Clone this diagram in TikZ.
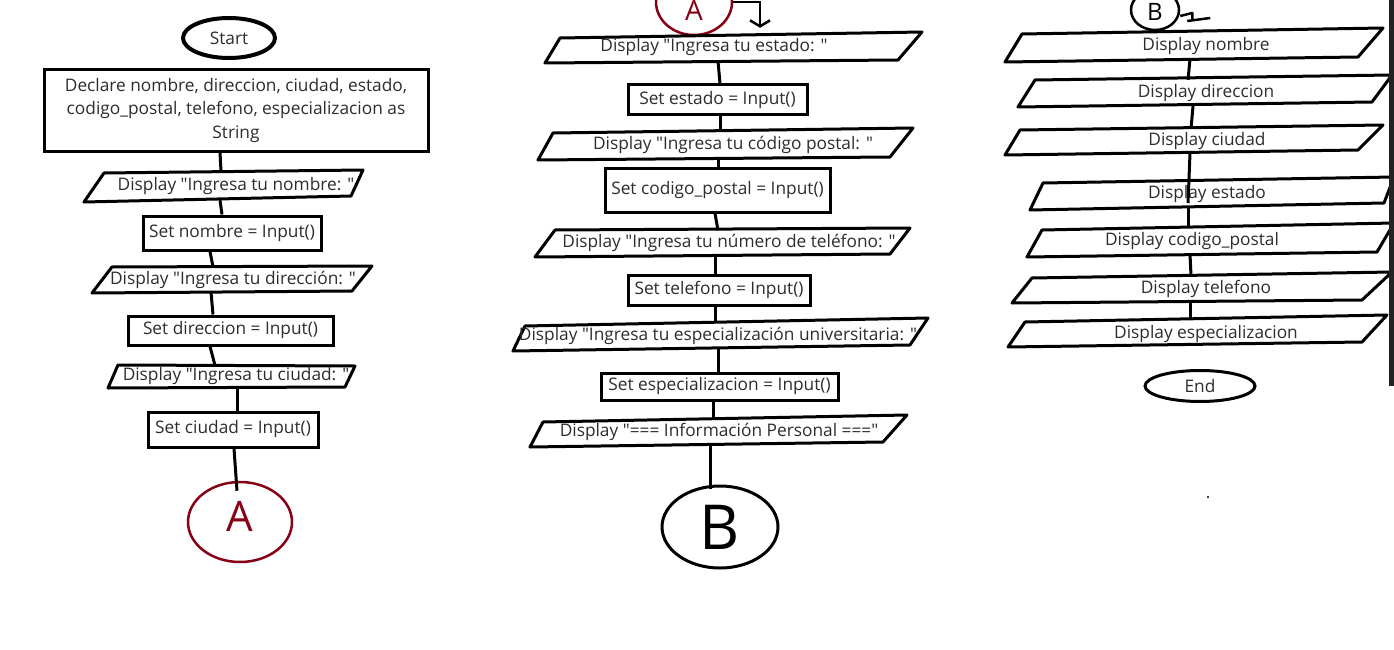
\documentclass[tikz,border=0pt]{standalone}
\usepackage{fontspec}
\usetikzlibrary{shapes.geometric,arrows.meta}
\newfontfamily\tf{Open Sans}
\definecolor{txtc}{RGB}{45,45,45}
\definecolor{dred}{RGB}{136,0,21}
\definecolor{bandc}{RGB}{35,35,35}
\tikzset{
  body/.style={font={\tf\fontsize{17.3}{20}\selectfont}, text=txtc},
  box/.style={body, draw, line width=3pt, inner sep=0pt},
  lbl/.style={body, inner sep=0pt, minimum width=20pt},
  io/.style={draw, line width=3pt, line join=round},
  conn/.style={line width=3pt},
  term/.style={body, ellipse, draw, line width=4pt, inner sep=0pt},
  conA/.style={ellipse, draw=dred, line width=2.5pt, inner sep=0pt, text=dred, font={\tf\fontsize{42}{42}\selectfont}},
  conB/.style={ellipse, draw, line width=3pt, inner sep=0pt, font={\tf\fontsize{62}{62}\selectfont}},
}
\begin{document}
\begin{tikzpicture}[x=1pt,y=-1pt]
\useasboundingbox (0,0) rectangle (1394,650);
\clip (0,0) rectangle (1394,650);
\fill[white] (0,0) rectangle (1394,650);

% ---------------- column 1 ----------------
\node[term, minimum width=92pt, minimum height=40pt] (start) at (229,38) {Start};
\node[box, minimum width=384pt, minimum height=81pt, align=center, font={\tf\fontsize{17.3}{23.5}\selectfont}] (decl) at (236,110.5)
  {Declare nombre, direccion, ciudad, estado,\\codigo\_postal, telefono, especializacion as\\String};

\draw[io] (104,173) -- (363,170) -- (351,196) -- (84,202) -- cycle;
\node[lbl, minimum height=28pt] (p1) at (236,186) {Display "Ingresa tu nombre: "};
\node[box, minimum width=178pt, minimum height=34pt] (b1) at (232,233) {Set nombre = Input()};

\draw[io] (112,267) -- (372,266) -- (352,291) -- (92,293) -- cycle;
\node[lbl, minimum height=25pt] (p2) at (233,279.5) {Display "Ingresa tu dirección: "};
\node[box, minimum width=205pt, minimum height=29pt] (b2) at (230.5,330.5) {Set direccion = Input()};

\draw[io] (118,365) -- (355,366) -- (345,387) -- (108,388) -- cycle;
\node[lbl, minimum height=22pt] (p3) at (236,376.5) {Display "Ingresa tu ciudad: "};
\node[box, minimum width=170pt, minimum height=35pt] (b3) at (233,429.5) {Set ciudad = Input()};

\node[conA, minimum width=104pt, minimum height=80pt, text height=30pt, text depth=12pt] (A) at (240,522) {A};

\draw[conn] ([xshift=-16pt]decl.south) -- ([xshift=-15pt]p1.north);
\draw[conn] ([xshift=-16pt]p1.south) -- ([xshift=-10pt]b1.north);
\draw[conn] ([xshift=-22pt]b1.south) -- ([xshift=-20pt]p2.north);
\draw[conn] ([xshift=-22pt]p2.south) -- ([xshift=-17.5pt]b2.north);
\draw[conn] ([xshift=-20.5pt]b2.south) -- ([xshift=-21pt]p3.north);
\draw[conn] ([xshift=1pt]p3.south) -- ([xshift=4pt]b3.north);
\draw[conn] ([xshift=1pt]b3.south) -- ([xshift=-3pt,yshift=-10pt]A.north);

% ---------------- column 2 ----------------
\node[conA, minimum width=76pt, minimum height=66pt, text height=38pt, text depth=0pt, font={\tf\fontsize{28}{28}\selectfont}] (A2) at (694,2) {A};

\draw[io] (560,38) -- (922,32) -- (898,60) -- (545,63) -- cycle;
\node[lbl, minimum height=27pt] (q1) at (714,47.5) {Display "Ingresa tu estado: "};
\node[box, minimum width=179pt, minimum height=30pt] (r1) at (717.5,100) {Set estado = Input()};

\draw[io] (553,133) -- (913,128) -- (890,157) -- (538,160) -- cycle;
\node[lbl, minimum height=28pt] (q2) at (733,145) {Display "Ingresa tu código postal: "};
\node[box, minimum width=225pt, minimum height=44pt] (r2) at (717.5,190) {Set codigo\_postal = Input()};

\draw[io] (555,230) -- (910,228) -- (890,254) -- (535,257) -- cycle;
\node[lbl, minimum height=25pt] (q3) at (729,243) {Display "Ingresa tu número de teléfono: "};
\node[box, minimum width=182pt, minimum height=30pt] (r3) at (719,290) {Set telefono = Input()};

\draw[io] (525,326) -- (928,318) -- (910,345) -- (513,351) -- cycle;
\node[lbl, minimum height=26pt] (q4) at (718,336) {Display "Ingresa tu especialización universitaria: "};
\node[box, minimum width=237pt, minimum height=27pt] (r4) at (719.5,386.5) {Set especializacion = Input()};

\draw[io] (543,422) -- (907,415) -- (883,442) -- (530,447) -- cycle;
\node[lbl, minimum height=28pt] (q5) at (719,432) {Display "=== Información Personal ==="};

\node[conB, minimum width=116pt, minimum height=82pt] (B) at (720,527) {B};

\draw[line width=2.5pt, -{Straight Barb[width=20pt,length=6pt]}] (A2.east) -| ([xshift=46pt,yshift=6pt]q1.north);
\draw[conn] ([xshift=4pt]q1.south) -- ([xshift=2.5pt]r1.north);
\draw[conn] ([xshift=2.5pt]r1.south) -- ([xshift=-13pt]q2.north);
\draw[conn] ([xshift=-15pt]q2.south) -- ([xshift=0.5pt]r2.north);
\draw[conn] ([xshift=-2.5pt]r2.south) -- ([xshift=-11pt]q3.north);
\draw[conn] ([xshift=-14pt]q3.south) -- ([xshift=-4pt]r3.north);
\draw[conn] ([xshift=-4pt]r3.south) -- ([xshift=-3pt]q4.north);
\draw[conn] ([xshift=0pt]q4.south) -- ([xshift=-1.5pt]r4.north);
\draw[conn] ([xshift=-6.5pt]r4.south) -- ([xshift=-6pt]q5.north);
\draw[conn] ([xshift=-9pt]q5.south) -- ([xshift=-10pt,yshift=-4pt]B.north);

% ---------------- column 3 ----------------
\node[conB, line width=2.5pt, minimum width=48pt, minimum height=40pt, text height=22pt, text depth=0pt, font={\tf\fontsize{24}{24}\selectfont}] (B2) at (1155,10) {B};
\draw[line width=2.5pt, line join=round] ([yshift=-6pt]B2.east) -- ++(12,-3) -- ++(0,8);
\draw[line width=2.5pt] ([xshift=7pt,yshift=-11pt]B2.east) -- ++(23,-3);

\draw[io] (1022,34) -- (1383,28) -- (1358,57) -- (1005,62) -- cycle;
\node[lbl, minimum height=26pt] (s1) at (1206,46) {Display nombre};
\draw[io] (1035,80) -- (1392,75) -- (1372,102) -- (1018,107) -- cycle;
\node[lbl, minimum height=26pt] (s2) at (1206,93) {Display direccion};
\draw[io] (1020,130) -- (1383,125) -- (1358,150) -- (1005,155) -- cycle;
\node[lbl, minimum height=24pt] (s3) at (1207,141) {Display ciudad};
\draw[io] (1043,183) -- (1394,177) -- (1384,203) -- (1030,210) -- cycle;
\node[lbl, minimum height=26pt] (s4) at (1207,194) {Display estado};
\draw[io] (1042,230) -- (1394,223) -- (1377,252) -- (1027,257) -- cycle;
\node[lbl, minimum height=26pt] (s5) at (1192,241) {Display codigo\_postal};
\draw[io] (1032,278) -- (1392,272) -- (1362,300) -- (1012,303) -- cycle;
\node[lbl, minimum height=26pt] (s6) at (1206,289) {Display telefono};
\draw[io] (1025,322) -- (1387,315) -- (1362,342) -- (1008,347) -- cycle;
\node[lbl, minimum height=28pt] (s7) at (1206,334) {Display especializacion};
\node[term, line width=3pt, minimum width=110pt, minimum height=31pt] (end) at (1200,386) {End};

\draw[conn] ([xshift=-16pt]s1.south) -- ([xshift=-18pt]s2.north);
\draw[conn] ([xshift=-13pt]s2.south) -- ([xshift=-16pt]s3.north);
\draw[conn] ([xshift=-17pt]s3.south) -- ([xshift=-19pt,yshift=4pt]s4.south);
\draw[conn] ([xshift=-19pt]s4.south) -- ([xshift=-4pt]s5.north);
\draw[conn] ([xshift=-2pt]s5.south) -- ([xshift=-15pt]s6.north);
\draw[conn] ([xshift=-16pt]s6.south) -- ([xshift=-16pt]s7.north);

\fill (1208,497) circle (1.2pt);
\fill[bandc] (1388.5,0) rectangle (1394,386);
\end{tikzpicture}
\end{document}
